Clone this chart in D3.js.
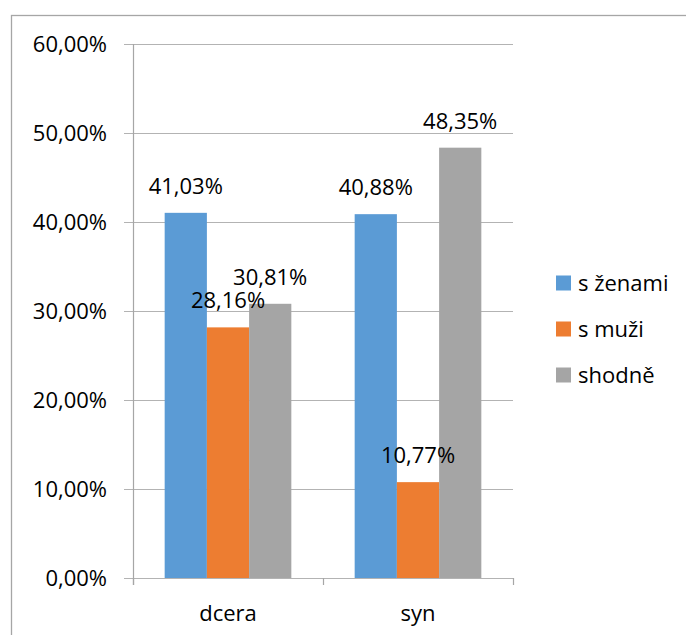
<!DOCTYPE html>
<html>
<head>
<meta charset="utf-8">
<script src="https://cdn.jsdelivr.net/npm/d3@7"></script>
<style>
  html, body { margin: 0; padding: 0; background: #fff; }
  svg { display: block; font-family: 'Open Sans', sans-serif; }
</style>
</head>
<body>
<svg id="chart" width="686" height="635"></svg>
<script>
// data
const CATEGORIES = ['dcera', 'syn'];
const SERIES = ['s ženami', 's muži', 'shodně'];
const COLORS = ['#5B9BD5', '#ED7D31', '#A5A5A5'];
const VALUES = [
  [0.4103, 0.2816, 0.3081],   // dcera
  [0.4088, 0.1077, 0.4835],   // syn
];
const Y_TICKS = [0, 0.1, 0.2, 0.3, 0.4, 0.5, 0.6];

const W = 686, H = 635;
const M = { left: 133, right: 513, top: 44, bottom: 578 };
const FS = 22;

const cz = d3.formatLocale({ decimal: ',', thousands: ' ', grouping: [3], currency: ['', ' Kč'] });
const pct = cz.format('.2%');

const svg = d3.select('#chart');

// chart area border (runs off the right and bottom edge)
svg.append('rect')
  .attr('x', 11.5).attr('y', 15.5).attr('width', W + 20).attr('height', H + 20)
  .attr('fill', '#fff').attr('stroke', '#a6a6a6').attr('stroke-width', 1.3);

const x0 = d3.scaleBand().domain(CATEGORIES).range([M.left, M.right]);
const bw = x0.bandwidth() / 4.5;          // gap width 150%
const x1 = d3.scaleBand().domain(SERIES).range([bw * 0.75, x0.bandwidth() - bw * 0.75]);
const y = d3.scaleLinear().domain([0, 0.6]).range([M.bottom, M.top]);

// gridlines + y ticks
const gY = svg.append('g');
gY.selectAll('line').data(Y_TICKS).join('line')
  .attr('x1', M.left - 9).attr('x2', M.right)
  .attr('y1', d => Math.round(y(d)) + 0.5).attr('y2', d => Math.round(y(d)) + 0.5)
  .attr('stroke', '#b3b3b3').attr('stroke-width', 1.2);
gY.selectAll('text').data(Y_TICKS).join('text')
  .attr('x', 107).attr('y', d => y(d)).attr('dy', '0.35em')
  .attr('text-anchor', 'end').attr('font-size', FS).attr('fill', '#000')
  .text(d => pct(d));

// y axis line
svg.append('line')
  .attr('x1', M.left + 0.5).attr('x2', M.left + 0.5)
  .attr('y1', M.top).attr('y2', M.bottom + 7)
  .attr('stroke', '#a6a6a6').attr('stroke-width', 1.2);

// x axis category ticks
const xt = CATEGORIES.map(c => x0(c)).concat([M.right]);
svg.append('g').selectAll('line').data(xt).join('line')
  .attr('x1', d => d + 0.5).attr('x2', d => d + 0.5)
  .attr('y1', M.bottom).attr('y2', M.bottom + 7)
  .attr('stroke', '#a6a6a6').attr('stroke-width', 1.2);

// bars
const groups = svg.append('g').selectAll('g').data(CATEGORIES).join('g')
  .attr('transform', c => `translate(${x0(c)},0)`);

groups.selectAll('rect').data((c, i) => SERIES.map((s, j) => ({ s, j, v: VALUES[i][j] }))).join('rect')
  .attr('x', d => x1(d.s)).attr('width', x1.bandwidth())
  .attr('y', d => y(d.v)).attr('height', d => y(0) - y(d.v))
  .attr('fill', d => COLORS[d.j]);

// data labels
groups.selectAll('text').data((c, i) => SERIES.map((s, j) => ({ s, j, v: VALUES[i][j] }))).join('text')
  .attr('x', d => x1(d.s) + x1.bandwidth() / 2)
  .attr('y', d => y(d.v) - 19)
  .attr('text-anchor', 'middle').attr('font-size', FS).attr('fill', '#000')
  .text(d => pct(d.v));

// category labels
svg.append('g').selectAll('text').data(CATEGORIES).join('text')
  .attr('x', c => x0(c) + x0.bandwidth() / 2).attr('y', 613).attr('dy', '0.35em')
  .attr('text-anchor', 'middle').attr('font-size', FS).attr('fill', '#000')
  .text(c => c);

// legend
const lg = svg.append('g').selectAll('g').data(SERIES).join('g')
  .attr('transform', (s, i) => `translate(556,${283 + i * 46})`);
lg.append('rect').attr('x', 0).attr('y', -7.5).attr('width', 15).attr('height', 15)
  .attr('fill', (s, i) => COLORS[i]);
lg.append('text').attr('x', 22).attr('y', 0).attr('dy', '0.35em')
  .attr('font-size', FS).attr('fill', '#000')
  .text(s => s);
</script>
</body>
</html>
